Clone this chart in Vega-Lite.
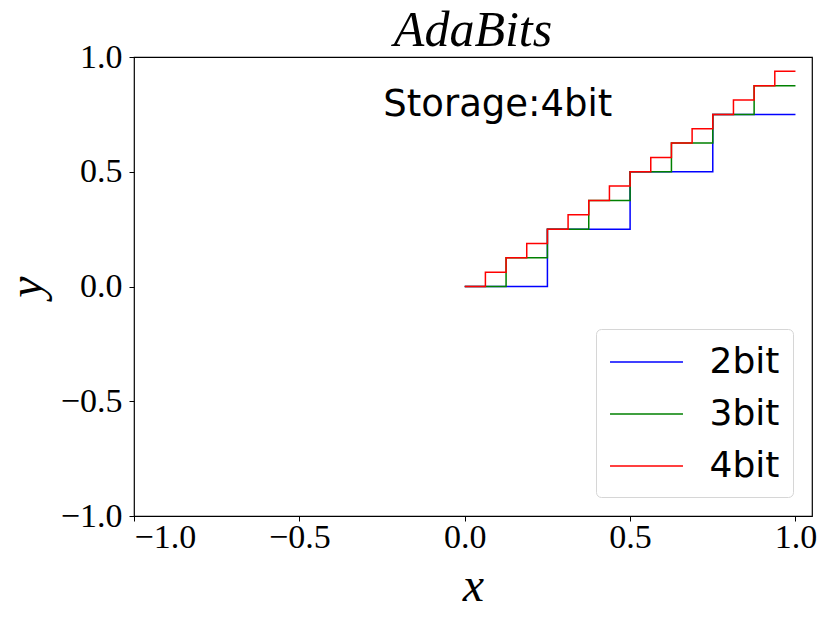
{
  "$schema": "https://vega.github.io/schema/vega-lite/v6.json",
  "width": 678,
  "height": 459,
  "autosize": {"type": "none"},
  "padding": {"left": 134, "top": 57, "right": 18, "bottom": 101},
  "background": "white",
  "config": {
    "view": {"stroke": "#000000", "strokeWidth": 1.2},
    "axis": {
      "grid": false,
      "domain": false,
      "ticks": true,
      "tickColor": "#000000",
      "tickSize": 5,
      "tickWidth": 1,
      "labelFont": "Liberation Serif",
      "labelFontSize": 34,
      "labelColor": "#000000",
      "titleFont": "Liberation Serif",
      "titleFontSize": 48,
      "titleFontStyle": "italic",
      "titleFontWeight": "normal",
      "titleColor": "#000000"
    }
  },
  "title": {
    "text": "AdaBits",
    "font": "Liberation Serif",
    "fontSize": 50,
    "fontStyle": "italic",
    "fontWeight": "normal",
    "color": "#000000",
    "anchor": "middle",
    "offset": -16
  },
  "datasets": {
    "steps": [
      {"series": "2bit", "x": 0, "y": 0},
      {"series": "2bit", "x": 0.25, "y": 0.25},
      {"series": "2bit", "x": 0.5, "y": 0.5},
      {"series": "2bit", "x": 0.75, "y": 0.75},
      {"series": "2bit", "x": 1, "y": 0.75},
      {"series": "3bit", "x": 0, "y": 0},
      {"series": "3bit", "x": 0.125, "y": 0.125},
      {"series": "3bit", "x": 0.25, "y": 0.25},
      {"series": "3bit", "x": 0.375, "y": 0.375},
      {"series": "3bit", "x": 0.5, "y": 0.5},
      {"series": "3bit", "x": 0.625, "y": 0.625},
      {"series": "3bit", "x": 0.75, "y": 0.75},
      {"series": "3bit", "x": 0.875, "y": 0.875},
      {"series": "3bit", "x": 1, "y": 0.875},
      {"series": "4bit", "x": 0, "y": 0},
      {"series": "4bit", "x": 0.0625, "y": 0.0625},
      {"series": "4bit", "x": 0.125, "y": 0.125},
      {"series": "4bit", "x": 0.1875, "y": 0.1875},
      {"series": "4bit", "x": 0.25, "y": 0.25},
      {"series": "4bit", "x": 0.3125, "y": 0.3125},
      {"series": "4bit", "x": 0.375, "y": 0.375},
      {"series": "4bit", "x": 0.4375, "y": 0.4375},
      {"series": "4bit", "x": 0.5, "y": 0.5},
      {"series": "4bit", "x": 0.5625, "y": 0.5625},
      {"series": "4bit", "x": 0.625, "y": 0.625},
      {"series": "4bit", "x": 0.6875, "y": 0.6875},
      {"series": "4bit", "x": 0.75, "y": 0.75},
      {"series": "4bit", "x": 0.8125, "y": 0.8125},
      {"series": "4bit", "x": 0.875, "y": 0.875},
      {"series": "4bit", "x": 0.9375, "y": 0.9375},
      {"series": "4bit", "x": 1, "y": 0.9375}
    ]
  },
  "layer": [
    {
      "data": {"name": "steps"},
      "mark": {"type": "line", "interpolate": "step-after", "strokeWidth": 1.5},
      "encoding": {
        "x": {
          "field": "x",
          "type": "quantitative",
          "scale": {"domain": [-1, 1.05], "nice": false, "zero": false},
          "axis": {
            "values": [-1, -0.5, 0, 0.5, 1],
            "labelExpr": "replace(format(datum.value, '.1f'), '-', '\u2212')",
            "labelPadding": -1,
            "title": "x",
            "titlePadding": 8
          }
        },
        "y": {
          "field": "y",
          "type": "quantitative",
          "scale": {"domain": [-1, 1], "nice": false, "zero": false},
          "axis": {
            "values": [-1, -0.5, 0, 0.5, 1],
            "labelExpr": "replace(format(datum.value, '.1f'), '-', '\u2212')",
            "labelPadding": 7,
            "title": "y",
            "titlePadding": 9
          }
        },
        "color": {
          "field": "series",
          "type": "nominal",
          "scale": {"domain": ["2bit", "3bit", "4bit"], "range": ["#0000ff", "#008000", "#ff0000"]},
          "legend": {
            "title": null,
            "orient": "none",
            "legendX": 462,
            "legendY": 272,
            "padding": 13,
            "strokeColor": "#d6d6d6",
            "fillColor": "#ffffff",
            "cornerRadius": 5,
            "symbolType": "M-1.92,0L1.92,0",
            "symbolSize": 1444,
            "symbolStrokeWidth": 1.5,
            "symbolOffset": 17.5,
            "labelOffset": 43,
            "labelFont": "DejaVu Sans",
            "labelFontSize": 36,
            "labelColor": "#000000",
            "rowPadding": 14
          }
        }
      }
    },
    {
      "data": {"values": [{}]},
      "mark": {
        "type": "text",
        "font": "DejaVu Sans",
        "fontSize": 37,
        "color": "#000000",
        "align": "center",
        "baseline": "middle"
      },
      "encoding": {
        "x": {"datum": 0.1, "type": "quantitative"},
        "y": {"datum": 0.79, "type": "quantitative"},
        "text": {"value": "Storage:4bit"}
      }
    }
  ]
}
